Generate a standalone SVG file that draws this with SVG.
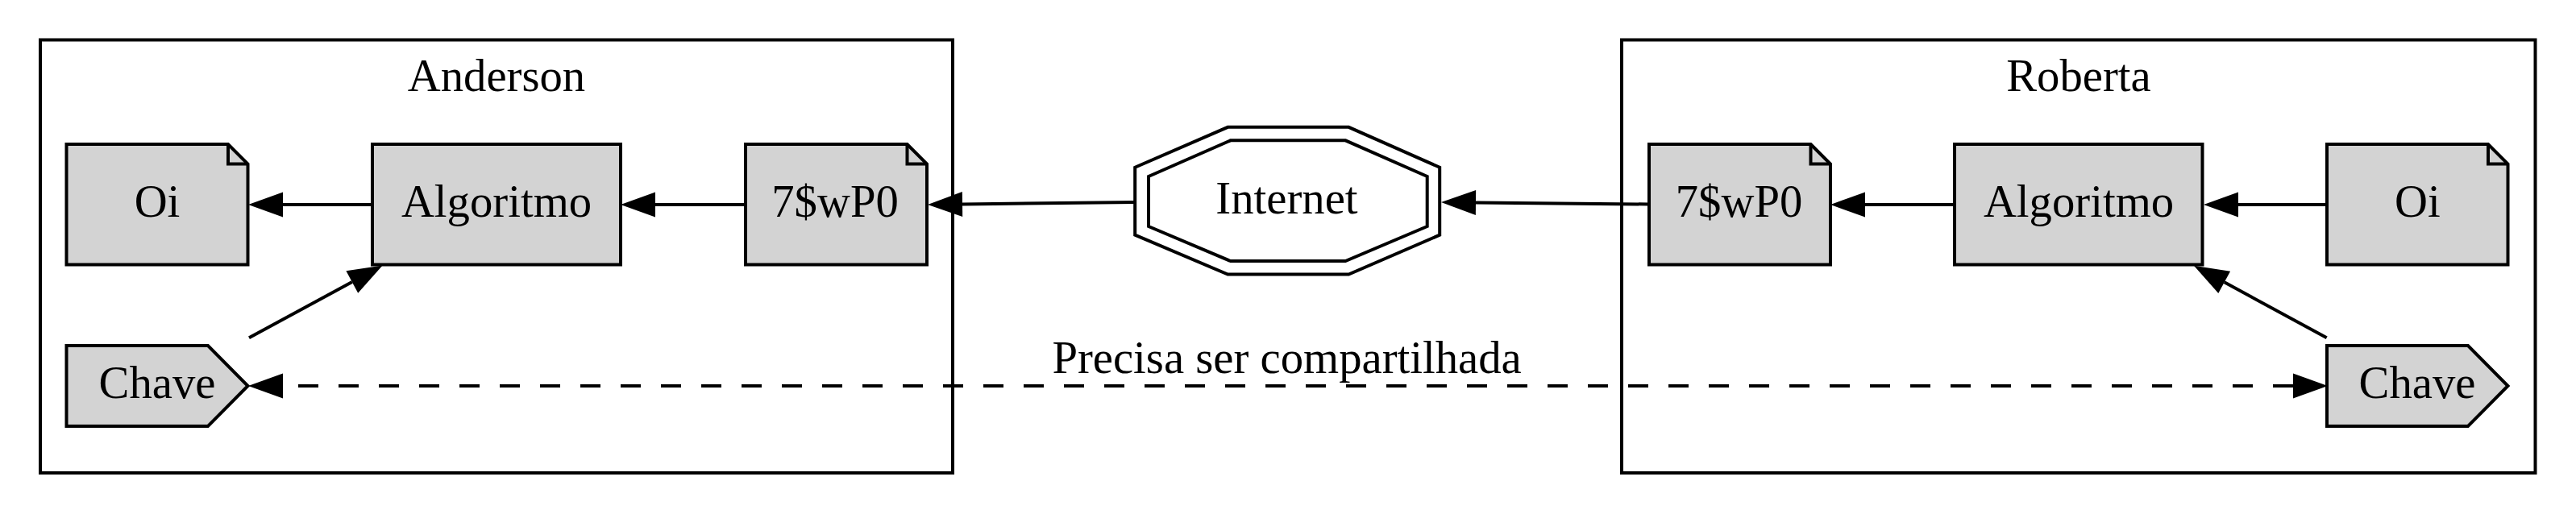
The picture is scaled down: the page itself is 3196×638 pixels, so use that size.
<svg xmlns="http://www.w3.org/2000/svg" width="3196" height="638" viewBox="0 0 3196 638">
<defs>
<style>
text{font-family:"Liberation Serif","Times New Roman",serif;font-size:56.7px;fill:#000;text-anchor:middle}
.cluster{fill:none;stroke:#000;stroke-width:4}
.node{fill:#d3d3d3;stroke:#000;stroke-width:4;stroke-linejoin:miter}
.plain{fill:none;stroke:#000;stroke-width:4}
.edge{fill:none;stroke:#000;stroke-width:4}
.dashed{stroke-dasharray:25,25}
</style>
<marker id="arrow" markerUnits="userSpaceOnUse" markerWidth="60" markerHeight="40" refX="0" refY="0" viewBox="0 -20 60 40" orient="auto-start-reverse" overflow="visible">
<path d="M0,-15.5 L43,0 L0,15.5 Z" fill="#000"/>
</marker>
</defs>
<rect x="0" y="0" width="3196" height="638" fill="#fff"/>

<g id="cluster_anderson">
<rect class="cluster" x="50" y="49.5" width="1132" height="537.5"/>
<text x="616" y="113">Anderson</text>
</g>
<g id="cluster_roberta">
<rect class="cluster" x="2012" y="49.5" width="1133.5" height="537.5"/>
<text x="2579" y="113">Roberta</text>
</g>

<g id="edges">
<path class="edge" d="M462,254 L351,254" marker-end="url(#arrow)"/>
<path class="edge" d="M925,254 L813,254" marker-end="url(#arrow)"/>
<path class="edge" d="M1408,251 L1194,253.5" marker-end="url(#arrow)"/>
<path class="edge" d="M2046,253.5 L1831,251.5" marker-end="url(#arrow)"/>
<path class="edge" d="M2425,254 L2314,254" marker-end="url(#arrow)"/>
<path class="edge" d="M2887,254 L2777,254" marker-end="url(#arrow)"/>
<path class="edge" d="M309,419.3 L436.8,350" marker-end="url(#arrow)"/>
<path class="edge" d="M2886.7,419.3 L2759.7,350.3" marker-end="url(#arrow)"/>
<path class="edge dashed" d="M2845,479 L351,479" marker-start="url(#arrow)" marker-end="url(#arrow)"/>
<text x="1596.6" y="462.6">Precisa ser compartilhada</text>
</g>

<g id="a_oi">
<path class="node" d="M82.5,179 L283,179 L307.5,203.5 L307.5,328.5 L82.5,328.5 Z"/>
<path class="plain" d="M283,179 L283,203.5 L307.5,203.5"/>
<text x="195" y="269">Oi</text>
</g>
<g id="a_algoritmo">
<rect class="node" x="462" y="179" width="308" height="149.5"/>
<text x="616" y="269">Algoritmo</text>
</g>
<g id="a_cifra">
<path class="node" d="M925,179 L1125.5,179 L1150,203.5 L1150,328.5 L925,328.5 Z"/>
<path class="plain" d="M1125.5,179 L1125.5,203.5 L1150,203.5"/>
<text x="1036" y="269">7$wP0</text>
</g>
<g id="a_chave">
<path class="node" d="M82.5,429 L258,429 L307.5,479 L258,529 L82.5,529 Z"/>
<text x="195" y="494">Chave</text>
</g>

<g id="internet">
<polygon class="plain" points="1523.3,157.8 1673.3,157.8 1786.2,207.7 1786.2,291.7 1673.3,340.5 1523.3,340.5 1408.2,291.7 1408.2,207.7"/>
<polygon class="plain" points="1526.7,174.3 1669.3,174.3 1770.7,219 1770.7,281 1669.3,324 1526.7,324 1425,281 1425,219"/>
<text x="1596.5" y="265">Internet</text>
</g>

<g id="r_cifra">
<path class="node" d="M2046,179 L2246.5,179 L2271,203.5 L2271,328.5 L2046,328.5 Z"/>
<path class="plain" d="M2246.5,179 L2246.5,203.5 L2271,203.5"/>
<text x="2157.5" y="269">7$wP0</text>
</g>
<g id="r_algoritmo">
<rect class="node" x="2425" y="179" width="307.5" height="149.5"/>
<text x="2579" y="269">Algoritmo</text>
</g>
<g id="r_oi">
<path class="node" d="M2887,179 L3087,179 L3111.5,203.5 L3111.5,328.5 L2887,328.5 Z"/>
<path class="plain" d="M3087,179 L3087,203.5 L3111.5,203.5"/>
<text x="2999.3" y="269">Oi</text>
</g>
<g id="r_chave">
<path class="node" d="M2887,429 L3062,429 L3111.5,479 L3062,529 L2887,529 Z"/>
<text x="2999" y="494">Chave</text>
</g>
</svg>
